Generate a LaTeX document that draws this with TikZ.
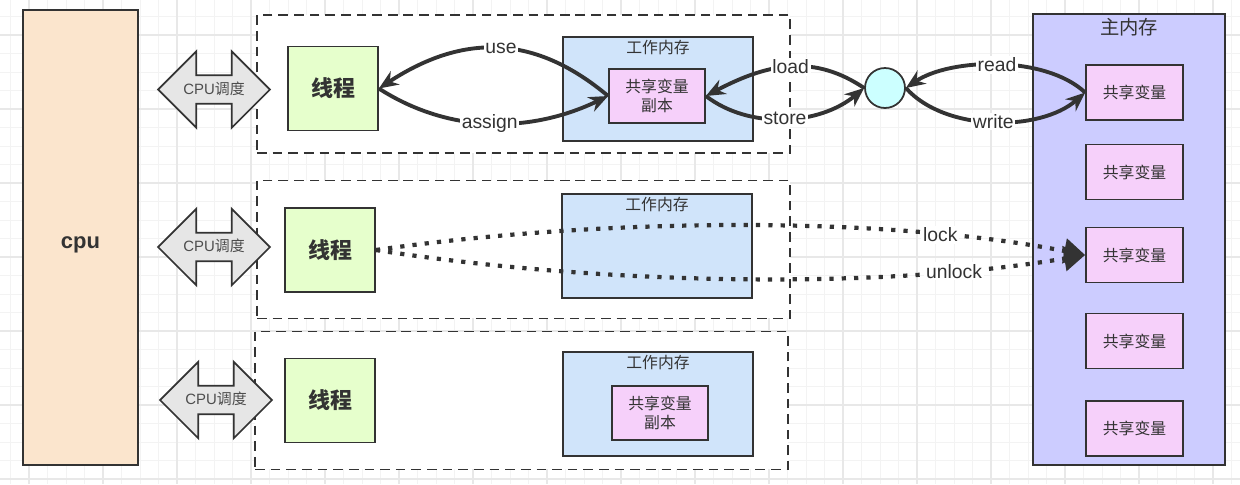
\documentclass[tikz,border=0pt]{standalone}
\usepackage{fontspec}
\setmainfont{Liberation Sans}
\newfontfamily\cjk{Noto Sans CJK SC}
\usepackage{xcolor}
\usetikzlibrary{shapes,arrows,positioning,calc,arrows.meta}
\definecolor{linec}{HTML}{333333}
\definecolor{textg}{HTML}{4D4D4D}
\definecolor{cpuc}{HTML}{FBE5CD}
\definecolor{schedc}{HTML}{E6E6E6}
\definecolor{threadc}{HTML}{E6FFCC}
\definecolor{workc}{HTML}{D0E4FA}
\definecolor{varc}{HTML}{F6D0FA}
\definecolor{mainc}{HTML}{CCCCFF}
\definecolor{circc}{HTML}{CCFFFF}
\definecolor{gridminor}{HTML}{F3F3F3}
\definecolor{gridmajor}{HTML}{E8E8E8}

\begin{document}
\begin{tikzpicture}[x=0.02cm, y=-0.02cm,
    box/.style={draw=linec, line width=1pt, inner sep=0pt, text=linec},
    cpubox/.style={box, fill=cpuc, minimum width=2.3cm, minimum height=9.1cm, text height=12pt, text depth=0pt, font=\bfseries\fontsize{12.5}{15}\selectfont},
    sched/.style={double arrow, draw=linec, line width=1pt, fill=schedc, minimum height=2.24cm,
        double arrow head extend=0.48cm, inner xsep=2pt, inner ysep=3.3pt, text height=7pt, text depth=1.5pt,
        text=textg, font=\fontsize{8.5}{10}\selectfont},
    groupbox/.style={draw=linec, line width=1.1pt, dash pattern=on 5.5pt off 3.4pt, fill=white, minimum width=10.66cm, minimum height=2.76cm},
    thread/.style={box, fill=threadc, minimum width=1.8cm, minimum height=1.68cm, font=\cjk\bfseries\fontsize{12.5}{15}\selectfont},
    work/.style={box, fill=workc, minimum width=3.8cm, minimum height=2.08cm},
    wtitle/.style={inner sep=0pt, text=linec, font=\cjk\fontsize{9}{11}\selectfont},
    copybox/.style={box, fill=varc, minimum width=1.92cm, minimum height=1.08cm, align=center, font=\cjk\fontsize{9}{11}\selectfont},
    varbox/.style={box, fill=varc, minimum width=1.94cm, minimum height=1.1cm, font=\cjk\fontsize{9}{11}\selectfont},
    flow/.style={draw=linec, line width=2.2pt, -{Stealth[length=11pt, width=9pt]}},
    lockline/.style={draw=linec, line width=2.4pt, dash pattern=on 2.4pt off 4.6pt, -{Triangle[length=12pt, width=14pt]}},
    lbl/.style={fill=white, inner sep=1pt, text=linec, font=\fontsize{11}{13}\selectfont}
]
    \useasboundingbox (0,0) rectangle (1240,484);
    \fill[white] (0,0) rectangle (1240,484);
    % background grid
    \foreach \gx in {10.5,29,...,1240} \draw[gridminor, line width=0.5pt] (\gx,0) -- (\gx,484);
    \foreach \gy in {16.5,35,...,484} \draw[gridminor, line width=0.5pt] (0,\gy) -- (1240,\gy);
    \foreach \gx in {29,103,...,1240} \draw[gridmajor, line width=0.6pt] (\gx,0) -- (\gx,484);
    \foreach \gy in {35,109,...,484} \draw[gridmajor, line width=0.6pt] (0,\gy) -- (1240,\gy);

    % cpu and the three threads
    \node[cpubox] (cpu) at (80.5,237.5) {cpu};
    \node[groupbox] (grp1) at (523.5,84) {};
    \node[groupbox] (grp2) at (523.5,249.5) {};
    \node[groupbox] (grp3) at (521.5,400.5) {};

    \node[sched] (sch1) at (214,89.5) {CPU{\cjk 调度}};
    \node[sched] (sch2) at (214,247) {CPU{\cjk 调度}};
    \node[sched] (sch3) at (216,400) {CPU{\cjk 调度}};

    \node[thread] (thr1) at (333,88.5) {线程};
    \node[thread] (thr2) at (330,250) {线程};
    \node[thread] (thr3) at (330,400.5) {线程};

    \node[work] (work1) at (658,89) {};
    \node[work] (work2) at (657,246) {};
    \node[work] (work3) at (658,404) {};
    \node[wtitle, below=0.07cm of work1.north] (wt1) {工作内存};
    \node[wtitle, below=0.07cm of work2.north] (wt2) {工作内存};
    \node[wtitle, below=0.07cm of work3.north] (wt3) {工作内存};
    \node[copybox] (copy1) at (657,96) {共享变量\\副本};
    \node[copybox] (copy3) at (660,413) {共享变量\\副本};

    % main memory
    \node[box, fill=mainc, minimum width=3.84cm, minimum height=9.02cm] (main) at (1129,239.5) {};
    \node[inner sep=0pt, text=linec, font=\cjk\fontsize{11}{13}\selectfont, below=0.1cm of main.north] (mt) {主内存};
    \node[varbox] (sv1) at (1134.5,92.5) {共享变量};
    \node[varbox] (sv2) at (1134.5,172) {共享变量};
    \node[varbox] (sv3) at (1134.5,255) {共享变量};
    \node[varbox] (sv4) at (1134.5,341) {共享变量};
    \node[varbox] (sv5) at (1134.5,428.5) {共享变量};

    \node[circle, draw=linec, line width=1pt, fill=circc, minimum size=0.8cm, inner sep=0pt] (circ) at (885,88) {};

    % row 1 operations
    \draw[flow] (copy1.west) .. controls (539,38) and (468,30) .. node[lbl] {use} (thr1.east);
    \draw[flow] (thr1.east) .. controls (448,133) and (529,134) .. node[lbl] {assign} (copy1.west);
    \draw[flow] (circ.west) .. controls (815,55) and (770,62) .. node[lbl] {load} (copy1.east);
    \draw[flow] (copy1.east) .. controls (750,130) and (820,125) .. node[lbl] {store} (circ.west);
    \draw[flow] (sv1.west) .. controls (1045,55) and (950,58) .. node[lbl] {read} (circ.east);
    \draw[flow] (circ.east) .. controls (945,132) and (1040,132) .. node[lbl] {write} (sv1.west);

    % row 2 lock / unlock
    \draw[lockline] (thr2.east) .. controls (600,218) and (880,215) .. node[lbl, pos=0.78] {lock} (sv3.west);
    \draw[lockline] (thr2.east) .. controls (600,285) and (880,290) .. node[lbl, pos=0.8] {unlock} (sv3.west);
\end{tikzpicture}
\end{document}
